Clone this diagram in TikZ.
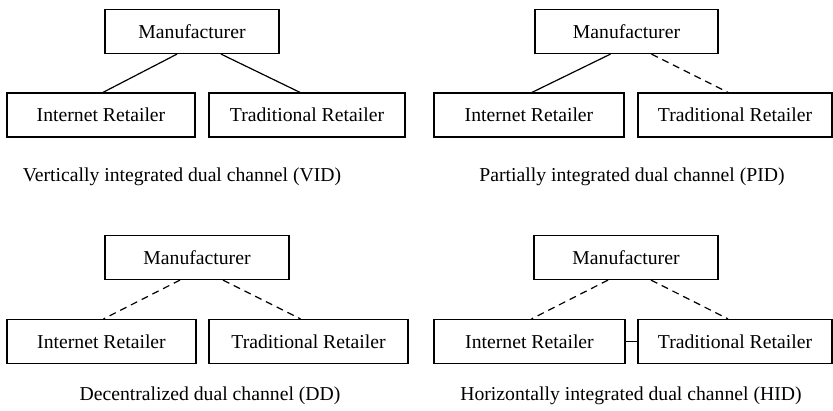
\documentclass[tikz,border=0pt]{standalone}
\usepackage{fontspec}
\setmainfont{Liberation Serif}
\usepackage{tikz}
\usetikzlibrary{positioning}

\tikzset{
  firm/.style={
    shape = rectangle,
    draw,
    line width = 1.2pt,
    inner sep = 0pt,
    minimum height = 44pt
  },
  owned/.style={
    line width = 1.2pt
  },
  indep/.style={
    line width = 1.2pt,
    dash pattern = on 7pt off 5pt
  },
  caption/.style={
    anchor = base,
    inner sep = 0pt
  },
  every picture/.style = {
    font=\fontsize{19.7}{23}\selectfont
  }
}

\begin{document}
\begin{tikzpicture}[x=1pt,y=-1pt]
  \useasboundingbox (0,0) rectangle (833,411);

  % VID
  \node[firm, minimum width=174pt] (mA)  at (192,31.5) {Manufacturer};
  \node[firm, minimum width=188pt] (irA) at (101,115)  {Internet Retailer};
  \node[firm, minimum width=196pt] (trA) at (307,115)  {Traditional Retailer};
  \draw[owned] ([xshift=-15pt]mA.south) -- ([xshift=2pt]irA.north);
  \draw[owned] ([xshift=29pt]mA.south)  -- ([xshift=-7pt]trA.north);
  \node[caption] (cA) at (182,182) {Vertically integrated dual channel (VID)};

  % PID
  \node[firm, minimum width=183pt] (mB)  at (626.5,31.5) {Manufacturer};
  \node[firm, minimum width=190pt] (irB) at (529,115)    {Internet Retailer};
  \node[firm, minimum width=194pt] (trB) at (735,115)    {Traditional Retailer};
  \draw[owned] ([xshift=-16pt]mB.south) -- ([xshift=3pt]irB.north);
  \draw[indep] ([xshift=25pt]mB.south)  -- ([xshift=-7pt]trB.north);
  \node[caption] (cB) at (632,182) {Partially integrated dual channel (PID)};

  % DD
  \node[firm, minimum width=184pt] (mC)  at (197,257.5) {Manufacturer};
  \node[firm, minimum width=189pt] (irC) at (101.5,341.5) {Internet Retailer};
  \node[firm, minimum width=199pt] (trC) at (308.5,341.5) {Traditional Retailer};
  \draw[indep] ([xshift=-17pt]mC.south) -- ([xshift=2pt]irC.north);
  \draw[indep] ([xshift=26pt]mC.south)  -- ([xshift=-8pt]trC.north);
  \node[caption] (cC) at (210,400.5) {Decentralized dual channel (DD)};

  % HID
  \node[firm, minimum width=184pt] (mD)  at (626,257.5) {Manufacturer};
  \node[firm, minimum width=191pt] (irD) at (529.5,341.5) {Internet Retailer};
  \node[firm, minimum width=194pt] (trD) at (735,341.5)   {Traditional Retailer};
  \draw[indep] ([xshift=-18pt]mD.south) -- ([xshift=2pt]irD.north);
  \draw[indep] ([xshift=25pt]mD.south)  -- ([xshift=-7pt]trD.north);
  \draw[owned] (irD.east) -- (trD.west);
  \node[caption] (cD) at (631,400.5) {Horizontally integrated dual channel (HID)};
\end{tikzpicture}
\end{document}
